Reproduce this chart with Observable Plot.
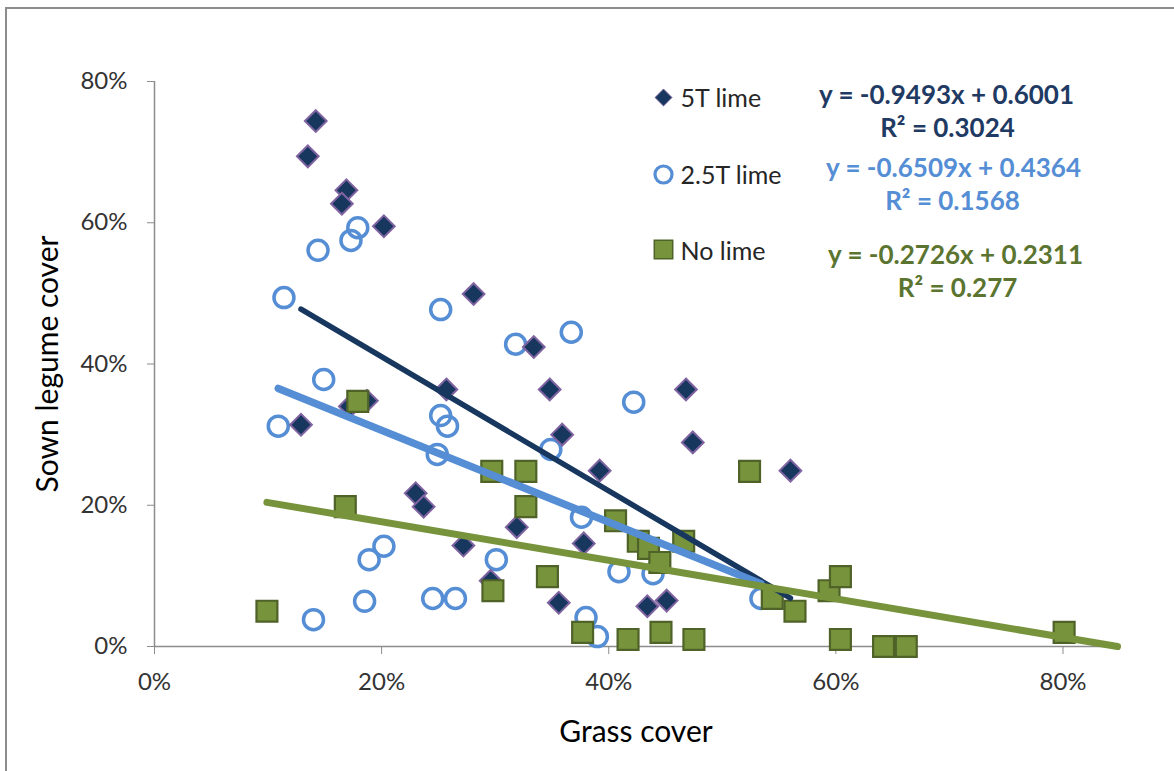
<!DOCTYPE html>
<html>
<head>
<meta charset="utf-8">
<script src="https://cdn.jsdelivr.net/npm/d3@7"></script>
<script src="https://cdn.jsdelivr.net/npm/@observablehq/plot@0.6"></script>
<style>
  html, body { margin: 0; padding: 0; background: #fff; overflow: hidden; }
  #wrap { position: relative; width: 1174px; height: 771px; overflow: hidden; }
  #frame { position: absolute; left: 5px; top: 7px; width: 1300px; height: 900px; border: 2px solid #8c8c8c; box-sizing: border-box; }
  #chart { position: absolute; left: 0; top: 0; }
</style>
</head>
<body>
<div id="wrap"><div id="frame"></div><div id="chart"></div></div>
<script>
// ---- data ----
const xTicks = [0, 0.2, 0.4, 0.6, 0.8];
const yTicks = [0, 0.2, 0.4, 0.6, 0.8];

const seriesNames = ["5T lime", "2.5T lime", "No lime"];

const grass5T   = [0.142,0.135,0.169,0.165,0.202,0.281,0.334,0.257,0.348,0.468,0.172,0.187,0.129,0.359,0.474,0.392,0.560,0.230,0.237,0.319,0.272,0.378,0.296,0.356,0.434,0.451];
const legume5T  = [0.744,0.694,0.646,0.627,0.595,0.499,0.424,0.364,0.364,0.364,0.340,0.348,0.314,0.300,0.289,0.249,0.249,0.217,0.198,0.169,0.143,0.146,0.093,0.062,0.057,0.065];

const grass25T  = [0.179,0.173,0.144,0.114,0.252,0.318,0.367,0.149,0.109,0.252,0.258,0.249,0.422,0.349,0.376,0.202,0.189,0.301,0.409,0.439,0.185,0.245,0.265,0.140,0.380,0.390,0.534];
const legume25T = [0.593,0.575,0.561,0.494,0.477,0.428,0.445,0.378,0.312,0.327,0.312,0.272,0.346,0.279,0.183,0.142,0.123,0.123,0.106,0.103,0.064,0.068,0.068,0.038,0.041,0.014,0.068];

const grassNo   = [0.099,0.168,0.179,0.297,0.327,0.327,0.298,0.346,0.377,0.406,0.417,0.426,0.435,0.445,0.446,0.466,0.475,0.524,0.544,0.564,0.594,0.604,0.604,0.642,0.662,0.801];
const legumeNo  = [0.050,0.198,0.347,0.248,0.248,0.198,0.079,0.099,0.020,0.178,0.010,0.149,0.139,0.119,0.020,0.149,0.010,0.248,0.068,0.050,0.079,0.099,0.010,0.000,0.000,0.020];

// trendlines (as printed on the chart)
const slopes     = [-0.9493, -0.6509, -0.2726];
const intercepts = [0.6001, 0.4364, 0.2311];
const trendStart = [0.129, 0.109, 0.099];
const trendEnd   = [0.560, 0.534, 0.848];
const equations  = ["y = -0.9493x + 0.6001", "y = -0.6509x + 0.4364", "y = -0.2726x + 0.2311"];
const r2Labels   = ["R² = 0.3024", "R² = 0.1568", "R² = 0.277"];

// ---- styles ----
const lineColors = ["#17375E", "#558ED5", "#77933C"];
const lineWidths = [5.5, 7.5, 7];
const eqColors   = ["#1F3A63", "#558ED5", "#5B7530"];
const font = "Lato, 'Open Sans', sans-serif";

const pts = (xs, ys) => xs.map((x, i) => ({x, y: ys[i]}));
const d5T = pts(grass5T, legume5T);
const d25T = pts(grass25T, legume25T);
const dNo = pts(grassNo, legumeNo);

const trends = [0, 1, 2].map(i => [
  {x: trendStart[i], y: slopes[i] * trendStart[i] + intercepts[i]},
  {x: trendEnd[i], y: slopes[i] * trendEnd[i] + intercepts[i]}
]);

const pct = d3.format(".0%");

// legend / equation placement (pixel offsets from the frame's top-left)
const legendSymDy = [16, 93, 168];
const legendTxtDy = [17, 94, 170];
const eqDx = [792, 799, 801], eqDy = [14, 87, 174];
const r2Dx = [793, 798, 803], r2Dy = [47, 120, 207];

const legendSyms = [
  {symbol: "diamond2", r: 7.6, fill: "#17375E", stroke: "#6F5A96", strokeWidth: 1},
  {symbol: "circle", r: 8.5, fill: "none", stroke: "#558ED5", strokeWidth: 3.2},
  {symbol: "square", r: 10.4, fill: "#77933C", stroke: "#4F6228", strokeWidth: 1.5}
];

const marks = [
  Plot.axisX({ticks: xTicks, tickFormat: pct, tickSize: 8, tickPadding: 18, fontSize: 24, stroke: "#8c8c8c", fill: "#333", label: null}),
  Plot.axisY({ticks: yTicks, tickFormat: pct, tickSize: 7, tickPadding: 20, fontSize: 24, stroke: "#8c8c8c", fill: "#333", label: null}),
  Plot.ruleY([0], {stroke: "#8c8c8c", strokeWidth: 1.5}),
  Plot.ruleX([0], {stroke: "#8c8c8c", strokeWidth: 1.5}),
  Plot.text(["Grass cover"], {frameAnchor: "bottom", dy: 86, lineAnchor: "middle", textAnchor: "middle", fontSize: 30, fill: "#000", fontFamily: font}),
  Plot.text(["Sown legume cover"], {frameAnchor: "left", dx: -106, rotate: -90, lineAnchor: "middle", textAnchor: "middle", fontSize: 30, fill: "#000", fontFamily: font}),
  // series markers
  Plot.dot(d25T, {x: "x", y: "y", r: 10, fill: "none", stroke: "#558ED5", strokeWidth: 3.5}),
  Plot.dot(d5T, {x: "x", y: "y", symbol: "diamond2", r: 9.8, fill: "#17375E", stroke: "#8064A2", strokeWidth: 2}),
  Plot.dot(dNo, {x: "x", y: "y", symbol: "square", r: 11.8, fill: "#77933C", stroke: "#4F6228", strokeWidth: 2.2}),
  // trendlines
  ...trends.map((t, i) => Plot.line(t, {x: "x", y: "y", stroke: lineColors[i], strokeWidth: lineWidths[i], strokeLinecap: "round"})),
  // legend
  ...seriesNames.map((name, i) => Plot.dot([name], {frameAnchor: "top-left", dx: 509, dy: legendSymDy[i], ...legendSyms[i]})),
  ...seriesNames.map((name, i) => Plot.text([name], {frameAnchor: "top-left", dx: 526, dy: legendTxtDy[i], textAnchor: "start", lineAnchor: "middle", fontSize: 25, fill: "#262626", fontFamily: font})),
  // equations
  ...equations.map((eq, i) => Plot.text([eq], {frameAnchor: "top-left", dx: eqDx[i], dy: eqDy[i], textAnchor: "middle", lineAnchor: "middle", fontSize: 26, fontWeight: "bold", fill: eqColors[i], fontFamily: font})),
  ...r2Labels.map((r2, i) => Plot.text([r2], {frameAnchor: "top-left", dx: r2Dx[i], dy: r2Dy[i], textAnchor: "middle", lineAnchor: "middle", fontSize: 26, fontWeight: "bold", fill: eqColors[i], fontFamily: font}))
];

const chart = Plot.plot({
  width: 1174,
  height: 771,
  marginLeft: 154,
  marginRight: 57,
  marginTop: 81,
  marginBottom: 125,
  style: {fontFamily: font, background: "transparent", overflow: "visible"},
  x: {domain: [0, 0.848]},
  y: {domain: [0, 0.8]},
  marks
});
document.getElementById("chart").appendChild(chart);
</script>
</body>
</html>
